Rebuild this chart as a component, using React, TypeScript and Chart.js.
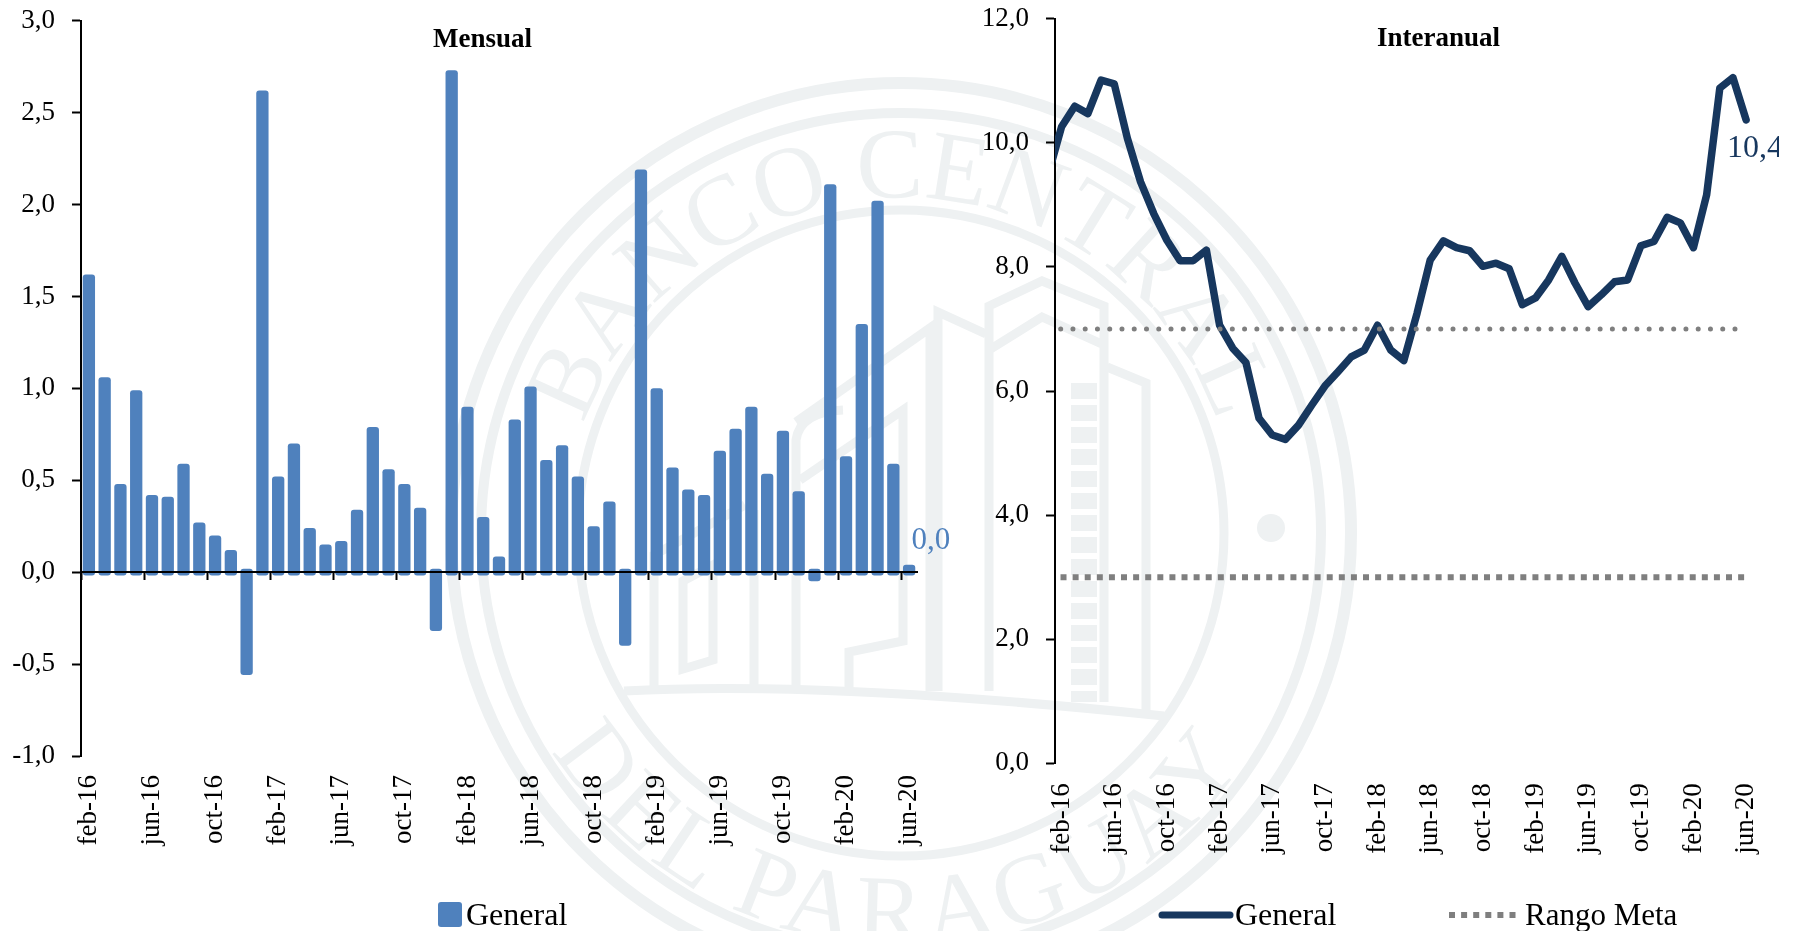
import React, { useEffect, useRef } from "react";
import { Chart, registerables } from "chart.js";

Chart.register(...registerables);

const FONT = '"Liberation Serif", serif';
const BAR_BLUE = "#4F81BD";
const NAVY = "#17375E";
const GREY = "#7F7F7F";
const MARK = "#EEF1F2";

const mesesMensual = [
  "feb-16","mar-16","abr-16","may-16","jun-16","jul-16","ago-16","sep-16","oct-16","nov-16","dic-16","ene-17",
  "feb-17","mar-17","abr-17","may-17","jun-17","jul-17","ago-17","sep-17","oct-17","nov-17","dic-17","ene-18",
  "feb-18","mar-18","abr-18","may-18","jun-18","jul-18","ago-18","sep-18","oct-18","nov-18","dic-18","ene-19",
  "feb-19","mar-19","abr-19","may-19","jun-19","jul-19","ago-19","sep-19","oct-19","nov-19","dic-19","ene-20",
  "feb-20","mar-20","abr-20","may-20","jun-20",
];
const mesesInteranual = ["ene-16", ...mesesMensual];

const mensualGeneral = [
  1.62, 1.06, 0.48, 0.99, 0.42, 0.41, 0.59, 0.27, 0.2, 0.12, -0.56, 2.62,
  0.52, 0.7, 0.24, 0.15, 0.17, 0.34, 0.79, 0.56, 0.48, 0.35, -0.32, 2.73,
  0.9, 0.3, 0.085, 0.83, 1.01, 0.61, 0.69, 0.52, 0.25, 0.385, -0.4, 2.19,
  1.0, 0.57, 0.45, 0.42, 0.66, 0.78, 0.9, 0.535, 0.77, 0.44, -0.05, 2.11,
  0.63, 1.35, 2.02, 0.59, 0.04,
];
const interanualGeneral = [
  9.5, 10.26, 10.59, 10.47, 11.01, 10.95, 10.07, 9.37, 8.86, 8.43, 8.1, 8.1, 8.27,
  7.06, 6.69, 6.46, 5.56, 5.29, 5.22, 5.45, 5.77, 6.08, 6.31, 6.55, 6.66,
  7.06, 6.66, 6.49, 7.25, 8.11, 8.42, 8.31, 8.26, 8.01, 8.06, 7.97, 7.39,
  7.5, 7.79, 8.17, 7.74, 7.36, 7.55, 7.76, 7.79, 8.34, 8.41, 8.8, 8.71,
  8.31, 9.16, 10.88, 11.05, 10.37,
];
const rangoSuperior = [
  7,7,7,7,7,7,7,7,7,7,7,7,7,7,7,7,7,7,7,7,7,7,7,7,7,7,7,
  7,7,7,7,7,7,7,7,7,7,7,7,7,7,7,7,7,7,7,7,7,7,7,7,7,7,7,
];
const rangoInferior = [
  3,3,3,3,3,3,3,3,3,3,3,3,3,3,3,3,3,3,3,3,3,3,3,3,3,3,3,
  3,3,3,3,3,3,3,3,3,3,3,3,3,3,3,3,3,3,3,3,3,3,3,3,3,3,3,
];

const OVERHANG = 0.018;
const comma = (v: number) => v.toFixed(1).replace(".", ",");

function drawText(ctx: any, text: string, x: number, y: number, font: string, color: string) {
  ctx.save();
  ctx.font = font;
  ctx.fillStyle = color;
  ctx.textAlign = "left";
  ctx.textBaseline = "alphabetic";
  ctx.fillText(text, x, y);
  ctx.restore();
}

const yAxis = (width: number, min: number, max: number, step: number) => ({
  min,
  max,
  afterFit: (s: any) => {
    s.width = width;
    s.paddingTop = 0;
    s.paddingBottom = 0;
  },
  border: { color: "#000", width: 2 },
  grid: { drawOnChartArea: false, tickLength: 9, tickColor: "#000", tickWidth: 2 },
  ticks: {
    stepSize: step,
    padding: 17,
    color: "#000",
    font: { family: FONT, size: 27 },
    callback: (v: any) => comma(Number(v)),
  },
});

const xFit = (height: number) => (s: any) => {
  s.height = height;
  s.paddingLeft = 0;
  s.paddingRight = 0;
};

const monthTicks = {
  autoSkip: false,
  minRotation: 90,
  maxRotation: 90,
  padding: 19,
  color: "#000",
  font: { family: FONT, size: 27 },
  callback(this: any, value: any, index: number) {
    return index % 4 === 0 ? this.getLabelForValue(value) : "";
  },
};

export default function App() {
  const leftRef = useRef<HTMLCanvasElement>(null);
  const rightRef = useRef<HTMLCanvasElement>(null);

  useEffect(() => {
    const left = new Chart(leftRef.current as any, {
      type: "bar",
      data: {
        labels: mesesMensual,
        datasets: [
          {
            label: "General",
            data: mensualGeneral.map((v) => [v >= 0 ? -OVERHANG : OVERHANG, v]),
            backgroundColor: BAR_BLUE,
            borderRadius: 3,
            borderSkipped: false,
            barPercentage: 0.78,
            categoryPercentage: 1,
          } as any,
        ],
      },
      options: {
        animation: false,
        responsive: false,
        layout: { autoPadding: false, padding: { top: 20.7, right: 83, left: 0, bottom: 0 } },
        plugins: { legend: { display: false }, tooltip: { enabled: false } },
        scales: {
          y: yAxis(81, -1, 3, 0.5),
          x: {
            offset: true,
            afterFit: xFit(175),
            border: { display: false },
            grid: { display: false, drawTicks: false },
            ticks: monthTicks,
          },
          xCero: {
            type: "category",
            axis: "x",
            position: { y: 0 },
            offset: true,
            border: { color: "#000", width: 2, z: 1 },
            grid: {
              offset: true,
              z: 1,
              drawOnChartArea: false,
              tickLength: 7,
              tickWidth: 2,
              tickColor: (c: any) => (c.index % 4 === 0 ? "#000" : "rgba(0,0,0,0)"),
            },
            ticks: { display: false, autoSkip: false },
          },
        } as any,
      },
      plugins: [
        {
          id: "textosMensual",
          afterDraw(chart: any) {
            const ctx = chart.ctx;
            drawText(ctx, "Mensual", 433, 47, `bold 27px ${FONT}`, "#000");
            const meta = chart.getDatasetMeta(0);
            const last = meta.data.length - 1;
            const el = meta.data[last];
            drawText(ctx, comma(mensualGeneral[last]), el.x + 2.4, el.y - 16, `31px ${FONT}`, BAR_BLUE);
            ctx.save();
            ctx.fillStyle = BAR_BLUE;
            ctx.beginPath();
            ctx.roundRect(438, 902, 24, 25, 3);
            ctx.fill();
            ctx.restore();
            drawText(ctx, chart.data.datasets[0].label, 466, 925, `32px ${FONT}`, "#000");
          },
        },
      ],
    });

    const LEFT = 960;
    const right = new Chart(rightRef.current as any, {
      type: "line",
      data: {
        labels: mesesInteranual,
        datasets: [
          {
            label: "Rango Meta",
            data: rangoSuperior,
            borderColor: GREY,
            borderWidth: 5,
            borderDash: [0.01, 12.25],
            borderCapStyle: "round",
            pointRadius: 0,
            clip: 0,
          },
          {
            label: "Rango Meta inferior",
            data: rangoInferior,
            borderColor: GREY,
            borderWidth: 6,
            borderDash: [6, 6.1],
            pointRadius: 0,
            clip: 0,
          },
          {
            label: "General",
            data: interanualGeneral,
            borderColor: NAVY,
            borderWidth: 7.5,
            borderCapStyle: "round",
            borderJoinStyle: "round",
            tension: 0,
            pointRadius: 0,
            clip: 0,
          },
        ] as any,
      },
      options: {
        animation: false,
        responsive: false,
        layout: { autoPadding: false, padding: { top: 18.7, right: 26.3, left: 0, bottom: 0 } },
        plugins: { legend: { display: false }, tooltip: { enabled: false } },
        scales: {
          y: yAxis(95, 0, 12, 2),
          x: {
            min: mesesMensual[0],
            offset: true,
            afterFit: xFit(167.7),
            border: { display: false },
            grid: { display: false, drawTicks: false },
            ticks: { ...monthTicks, padding: 20 },
          },
        } as any,
      },
      plugins: [
        {
          id: "textosInteranual",
          afterDraw(chart: any) {
            const ctx = chart.ctx;
            drawText(ctx, "Interanual", 1377 - LEFT, 46, `bold 27px ${FONT}`, "#000");
            const meta = chart.getDatasetMeta(2);
            const last = meta.data.length - 1;
            const el = meta.data[last];
            drawText(ctx, comma(interanualGeneral[last]), el.x - 19, el.y + 37, `32px ${FONT}`, NAVY);
            ctx.save();
            ctx.strokeStyle = NAVY;
            ctx.lineWidth = 7;
            ctx.lineCap = "round";
            ctx.beginPath();
            ctx.moveTo(1162 - LEFT, 915);
            ctx.lineTo(1230 - LEFT, 915);
            ctx.stroke();
            ctx.strokeStyle = GREY;
            ctx.lineWidth = 6;
            ctx.lineCap = "butt";
            ctx.setLineDash([6, 6.1]);
            ctx.beginPath();
            ctx.moveTo(1449 - LEFT, 915);
            ctx.lineTo(1517 - LEFT, 915);
            ctx.stroke();
            ctx.restore();
            drawText(ctx, chart.data.datasets[2].label, 1235 - LEFT, 925, `32px ${FONT}`, "#000");
            drawText(ctx, chart.data.datasets[0].label, 1525 - LEFT, 925, `31px ${FONT}`, "#000");
          },
        },
      ],
    });

    return () => {
      left.destroy();
      right.destroy();
    };
  }, []);

  return (
    <div style={{ position: "absolute", left: 0, top: 0, width: 1799, height: 931, overflow: "hidden", background: "#fff" }}>
      <svg width={1799} height={931} style={{ position: "absolute", left: 0, top: 0 }}>
        <defs>
          <path id="arcoSup" d="M 584 424 A 335 335 0 0 1 1218 424" />
          <path id="arcoInf" d="M 552 751 A 412 412 0 0 0 1247 757" />
        </defs>
        <g fill="none" stroke={MARK}>
          <circle cx={901} cy={533} r={450} strokeWidth={12} />
          <circle cx={901} cy={533} r={420} strokeWidth={10} />
          <circle cx={901} cy={533} r={323} strokeWidth={9} />
          <path strokeWidth={9} d="M624 691 Q820 680 1164 716" />
          <path strokeWidth={9} d="M654 690 V555 L745 505 M683 669 V581 L713 565 V660 Z M754 690 V510" />
          <path strokeWidth={9} d="M796 690 V440 Q800 412 843 410 M849 691 V652 L903 641 V410 L800 480" />
          <path strokeWidth={9} d="M930 691 V328 L796 422 M938 691 V312 L986 334" />
          <path strokeWidth={9} d="M989 691 V306 L1042 281 L1104 306 V702 M989 350 L1042 317 L1104 345" />
          <path strokeWidth={26} strokeDasharray="16 6" d="M1084 383 V702" />
          <path strokeWidth={9} d="M1107 367 L1146 383 V713" />
        </g>
        <circle cx={1271} cy={528} r={14} fill={MARK} />
        <g fill={MARK} fontFamily={FONT} fontSize={100}>
          <text>
            <textPath href="#arcoSup" textLength={830} lengthAdjust="spacing">BANCO CENTRAL</textPath>
          </text>
          <text>
            <textPath href="#arcoInf" textLength={820} lengthAdjust="spacing">DEL PARAGUAY</textPath>
          </text>
        </g>
      </svg>
      <canvas ref={leftRef} width={1000} height={931} style={{ position: "absolute", left: 0, top: 0 }} />
      <canvas ref={rightRef} width={819} height={931} style={{ position: "absolute", left: 960, top: 0 }} />
    </div>
  );
}
